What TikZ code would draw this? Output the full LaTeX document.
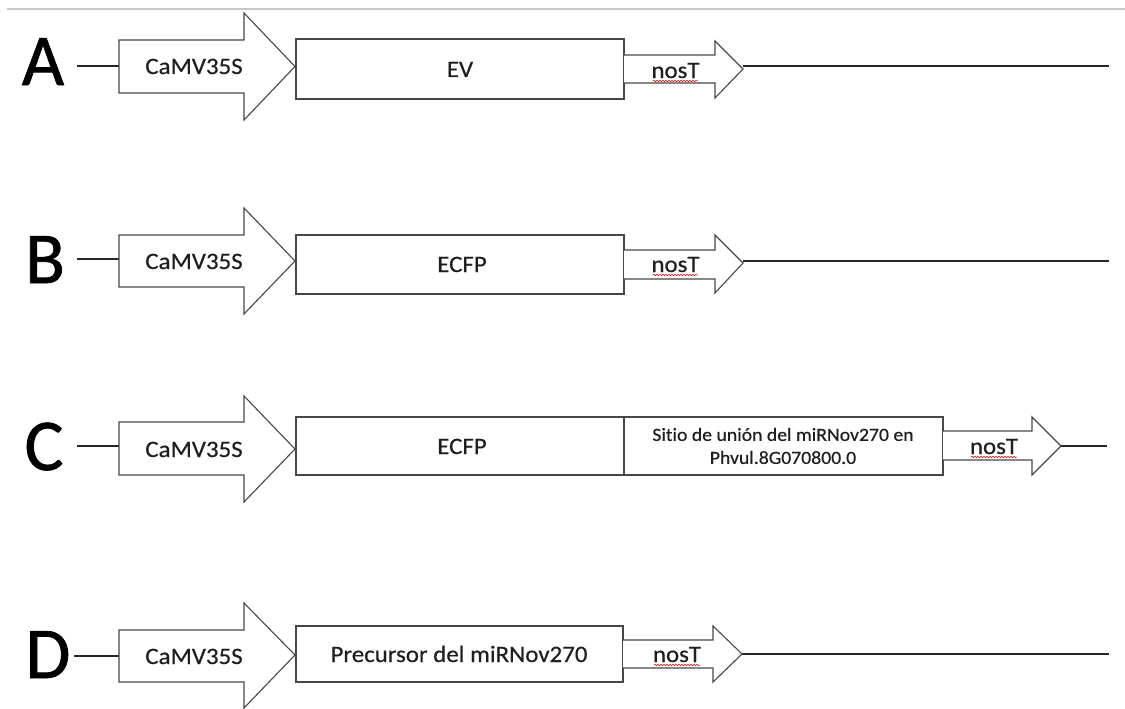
\documentclass[tikz,border=0pt]{standalone}
\usepackage{fontspec}
\setmainfont{Carlito}[Ligatures=NoCommon]
\newfontfamily\lblfont{Carlito}[Ligatures=NoCommon, FakeStretch=1.06, FakeBold=0.45]
\newfontfamily\bigfont{Carlito}[Ligatures=NoCommon, FakeBold=1.0]
\usetikzlibrary{decorations.pathmorphing}
\begin{document}
\begin{tikzpicture}[x=1pt,y=-1pt,
  part/.style={draw=black!72, line width=1.1pt, fill=white, line join=miter},
  wire/.style={draw=black!85, line width=1.1pt},
  lbl/.style={font=\lblfont\fontsize{23.5}{27}\selectfont, text=black!88, inner sep=0pt, anchor=base},
  smalllbl/.style={font=\lblfont\fontsize{18.6}{23}\selectfont, text=black!88, inner sep=0pt, align=center},
  rowlbl/.style={font=\bigfont\fontsize{73}{80}\selectfont, text=black, inner sep=0pt, anchor=base},
  spell/.style={draw=red!80!black, line width=0.5pt, decorate, decoration={snake, amplitude=0.8pt, segment length=3pt}}]
\useasboundingbox (0,0) rectangle (1125,709);
\draw[gray!45, line width=1.2pt] (7,9) -- (1125,9);

% ---------- Row A ----------
\node[rowlbl] (lA) at (43,85) {A};
\coordinate (Aw) at (77,66);
\coordinate (Atail) at (119,66);
\coordinate (Atip) at (743,66);
\coordinate (Aend) at (1109,66);
\draw[wire] (Aw) -- (Atail);
\draw[wire] (Atip) -- (Aend);
\draw[part] (119,40) -- (244,40) -- (244,13) -- (295,66.5) -- (244,120) -- (244,93) -- (119,93) -- cycle;
\draw[part] (296,39) rectangle (624,99);
\draw[part] (624,55) -- (715,55) -- (715,41) -- (743,69) -- (715,98) -- (715,83) -- (624,83);
\node[lbl] (pA) at (194,74) {CaMV35S};
\node[lbl] (gA) at (460,77) {EV};
\node[lbl] (tA) at (675.5,78) {nosT};
\draw[spell] (653,81) -- (698,81);

% ---------- Row B ----------
\node[rowlbl] (lB) at (45,283) {B};
\coordinate (Bw) at (77,259);
\coordinate (Btail) at (119,259);
\coordinate (Btip) at (743,261);
\coordinate (Bend) at (1109,261);
\draw[wire] (Bw) -- (Btail);
\draw[wire] (Btip) -- (Bend);
\draw[part] (119,235) -- (244,235) -- (244,208) -- (295,261) -- (244,314) -- (244,287) -- (119,287) -- cycle;
\draw[part] (296,235) rectangle (624,294);
\draw[part] (624,250) -- (715,250) -- (715,235) -- (743,263) -- (715,293) -- (715,279) -- (624,279);
\node[lbl] (pB) at (194,269) {CaMV35S};
\node[lbl] (gB) at (462,272) {ECFP};
\node[lbl] (tB) at (675.5,272) {nosT};
\draw[spell] (653,275) -- (698,275);

% ---------- Row C ----------
\node[rowlbl] (lC) at (44,470) {C};
\coordinate (Cw) at (77,446);
\coordinate (Ctail) at (119,446);
\coordinate (Ctip) at (1061,446);
\coordinate (Cend) at (1107,446);
\draw[wire] (Cw) -- (Ctail);
\draw[wire] (Ctip) -- (Cend);
\draw[part] (119,422) -- (244,422) -- (244,396) -- (295,449) -- (244,502) -- (244,475) -- (119,475) -- cycle;
\draw[part] (296,417) rectangle (624,475);
\draw[part] (624,417) rectangle (943,475);
\draw[part] (943,431) -- (1032,431) -- (1032,417) -- (1061,446) -- (1032,475) -- (1032,460) -- (943,460);
\node[lbl] (pC) at (194,457) {CaMV35S};
\node[lbl] (gC) at (462,454) {ECFP};
\node[smalllbl] (sC) at (783,446) {Sitio de unión del miRNov270 en\\Phvul.8G070800.0};
\node[lbl] (tC) at (994,454) {nosT};
\draw[spell] (971,457) -- (1017,457);

% ---------- Row D ----------
\node[rowlbl] (lD) at (48,678) {D};
\coordinate (Dw) at (74,656);
\coordinate (Dtail) at (119,656);
\coordinate (Dtip) at (742,654);
\coordinate (Dend) at (1109,654);
\draw[wire] (Dw) -- (Dtail);
\draw[wire] (Dtip) -- (Dend);
\draw[part] (119,630) -- (244,630) -- (244,603) -- (295,655) -- (244,708) -- (244,682) -- (119,682) -- cycle;
\draw[part] (296,626) rectangle (623,682);
\draw[part] (623,640) -- (713,640) -- (713,626) -- (742,654) -- (713,682) -- (713,668) -- (623,668);
\node[lbl] (pD) at (194,664) {CaMV35S};
\node[lbl] (gD) at (459,662) {Precursor del miRNov270};
\node[lbl] (tD) at (677,662) {nosT};
\draw[spell] (654,665) -- (700,665);
\end{tikzpicture}
\end{document}
